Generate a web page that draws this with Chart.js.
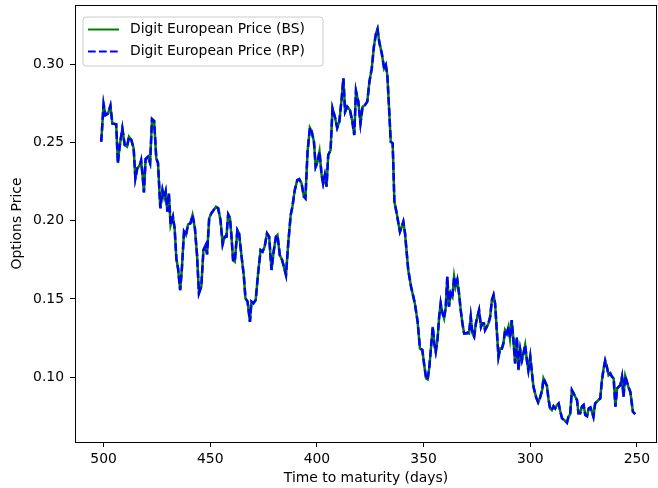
<!DOCTYPE html>
<html>
<head>
<meta charset="utf-8">
<script src="https://cdn.jsdelivr.net/npm/chart.js@4.4.1/dist/chart.umd.min.js"></script>
<style>
  html, body { margin: 0; padding: 0; background: #ffffff; }
  canvas { display: block; }
</style>
</head>
<body>
<canvas id="chart" width="658" height="488"></canvas>
<script>
// Time to maturity (days), counting down
const days = [
  501.1, 500.0, 499.1, 497.9, 496.8, 495.9, 494.1, 493.3, 492.5, 491.2,
  490.1, 489.0, 488.1, 487.0, 485.9, 485.1, 484.2, 483.0, 482.4, 481.6,
  481.1, 480.3, 479.2, 478.2, 477.3, 476.3, 475.3, 474.5, 473.4, 472.4,
  471.6, 470.9, 470.1, 469.4, 468.6, 467.5, 466.7, 465.9, 465.1, 464.1,
  463.3, 462.3, 461.4, 460.4, 459.3, 458.3, 457.2, 456.2, 455.3, 454.2,
  453.2, 452.1, 451.5, 450.5, 449.5, 448.4, 447.3, 446.3, 445.2, 444.2,
  443.2, 442.4, 441.6, 440.8, 440.1, 439.3, 438.5, 437.3, 436.5, 435.4,
  434.3, 433.5, 432.5, 431.4, 430.7, 429.8, 428.7, 427.5, 426.4, 425.5,
  424.5, 423.4, 422.4, 421.3, 420.3, 419.2, 418.5, 417.4, 416.3, 415.3,
  414.5, 413.4, 412.3, 411.5, 410.4, 409.2, 408.3, 407.2, 406.1, 405.4,
  404.4, 403.3, 402.5, 401.4, 400.6, 399.7, 398.8, 397.8, 397.1, 396.3,
  395.5, 394.7, 393.6, 392.7, 391.6, 390.5, 389.5, 388.4, 387.6, 386.8,
  385.8, 384.5, 383.4, 382.5, 381.7, 380.6, 379.6, 378.6, 377.5, 376.4,
  375.4, 374.3, 373.3, 372.3, 371.6, 370.8, 369.6, 368.5, 367.7, 367.0,
  366.1, 365.4, 364.5, 363.7, 362.6, 361.8, 361.1, 360.3, 359.5, 358.7,
  357.9, 357.2, 355.9, 354.9, 354.1, 352.8, 351.7, 350.6, 349.6, 348.8,
  348.1, 347.3, 346.5, 345.7, 345.0, 344.3, 343.5, 342.7, 342.0, 341.3,
  340.4, 339.6, 338.9, 338.1, 337.3, 336.5, 335.7, 335.0, 334.2, 333.4,
  332.6, 331.8, 331.0, 330.2, 329.4, 328.7, 327.9, 327.1, 326.3, 325.5,
  324.8, 324.0, 323.1, 322.5, 321.7, 321.2, 320.4, 319.6, 318.8, 318.0,
  317.2, 316.5, 315.7, 314.9, 314.1, 313.3, 312.6, 311.8, 311.0, 310.2,
  309.5, 308.7, 307.9, 307.1, 306.3, 305.5, 304.7, 303.9, 303.2, 302.4,
  301.6, 300.9, 300.0, 299.2, 298.5, 297.2, 296.3, 295.4, 294.4, 293.8,
  292.2, 291.4, 290.7, 289.9, 289.1, 288.3, 287.5, 286.7, 285.9, 285.1,
  284.4, 283.7, 282.8, 282.1, 281.3, 280.5, 279.7, 278.9, 278.1, 277.4,
  276.6, 275.8, 275.0, 274.2, 273.4, 272.6, 271.8, 271.1, 270.4, 269.6,
  268.8, 268.0, 267.2, 266.4, 265.6, 264.9, 264.1, 263.3, 262.5, 261.7,
  260.9, 260.1, 259.3, 258.6, 257.8, 257.0, 256.3, 255.5, 254.7, 253.9,
  253.1, 252.4, 251.9, 250.8
];

// Black-Scholes digit price
const bsPrice = [
  0.2504, 0.2743, 0.2674, 0.2685, 0.2734, 0.2621, 0.2615, 0.2368, 0.2472, 0.2589,
  0.2483, 0.2473, 0.2536, 0.2515, 0.2461, 0.2270, 0.2334, 0.2355, 0.2385, 0.2270,
  0.2181, 0.2393, 0.2408, 0.2368, 0.2649, 0.2636, 0.2398, 0.2368, 0.2079, 0.2195,
  0.2146, 0.2185, 0.2058, 0.2174, 0.1972, 0.2025, 0.1951, 0.1759, 0.1695, 0.1557,
  0.1695, 0.1929, 0.1908, 0.1976, 0.1983, 0.2036, 0.1951, 0.1780, 0.1536, 0.1579,
  0.1812, 0.1844, 0.1785, 0.2015, 0.2047, 0.2068, 0.2089, 0.2079, 0.2004, 0.1849,
  0.1898, 0.1898, 0.2040, 0.2019, 0.1908, 0.1748, 0.1738, 0.1940, 0.1919, 0.1780,
  0.1653, 0.1504, 0.1483, 0.1354, 0.1483, 0.1472, 0.1493, 0.1674, 0.1812, 0.1802,
  0.1834, 0.1919, 0.1898, 0.1685, 0.1802, 0.1898, 0.1908, 0.1780, 0.1748, 0.1695,
  0.1653, 0.1865, 0.2036, 0.2089, 0.2195, 0.2259, 0.2265, 0.2238, 0.2153, 0.2142,
  0.2440, 0.2593, 0.2572, 0.2504, 0.2344, 0.2376, 0.2440, 0.2291, 0.2238, 0.2291,
  0.2217, 0.2419, 0.2451, 0.2717, 0.2664, 0.2593, 0.2632, 0.2781, 0.2909, 0.2696,
  0.2728, 0.2706, 0.2632, 0.2547, 0.2828, 0.2760, 0.2621, 0.2728, 0.2738, 0.2760,
  0.2887, 0.2972, 0.3111, 0.3196, 0.3223, 0.3142, 0.3068, 0.2972, 0.2994, 0.2930,
  0.2696, 0.2504, 0.2494, 0.2121, 0.2047, 0.1983, 0.1930, 0.1960, 0.1993, 0.1919,
  0.1793, 0.1685, 0.1580, 0.1520, 0.1472, 0.1354, 0.1184, 0.1174, 0.1067, 0.0993,
  0.0987, 0.1067, 0.1195, 0.1322, 0.1216, 0.1163, 0.1238, 0.1386, 0.1472, 0.1418,
  0.1376, 0.1450, 0.1642, 0.1451, 0.1536, 0.1514, 0.1642, 0.1578, 0.1621, 0.1536,
  0.1429, 0.1344, 0.1280, 0.1280, 0.1285, 0.1280, 0.1386, 0.1280, 0.1259, 0.1344,
  0.1386, 0.1429, 0.1322, 0.1344, 0.1344, 0.1301, 0.1322, 0.1344, 0.1386, 0.1493,
  0.1525, 0.1472, 0.1301, 0.1131, 0.1184, 0.1184, 0.1216, 0.1301, 0.1280, 0.1322,
  0.1248, 0.1365, 0.1238, 0.1089, 0.1255, 0.1046, 0.1174, 0.1110, 0.1152, 0.1206,
  0.1110, 0.1046, 0.1131, 0.1025, 0.0939, 0.0870, 0.0840, 0.0870, 0.0920, 0.0993,
  0.0945, 0.0855, 0.0801, 0.0791, 0.0816, 0.0801, 0.0822, 0.0833, 0.0780, 0.0738,
  0.0731, 0.0722, 0.0710, 0.0748, 0.0765, 0.0918, 0.0897, 0.0876, 0.0855, 0.0770,
  0.0770, 0.0812, 0.0823, 0.0759, 0.0752, 0.0801, 0.0808, 0.0780, 0.0748, 0.0833,
  0.0844, 0.0855, 0.0865, 0.0982, 0.1057, 0.1106, 0.1067, 0.1014, 0.1025, 0.1003,
  0.0993, 0.0812, 0.0929, 0.0939, 0.0950, 0.1003, 0.0876, 0.1008, 0.0971, 0.0935,
  0.0908, 0.0833, 0.0780, 0.0765
];

// Replicating-portfolio digit price
const rpPrice = [
  0.2504, 0.2743, 0.2674, 0.2685, 0.2734, 0.2621, 0.2615, 0.2368, 0.2472, 0.2589,
  0.2483, 0.2473, 0.2536, 0.2515, 0.2461, 0.2270, 0.2334, 0.2355, 0.2385, 0.2270,
  0.2181, 0.2393, 0.2408, 0.2368, 0.2649, 0.2636, 0.2398, 0.2368, 0.2079, 0.2195,
  0.2146, 0.2185, 0.2058, 0.2174, 0.1972, 0.2025, 0.1951, 0.1759, 0.1695, 0.1557,
  0.1695, 0.1929, 0.1908, 0.1976, 0.1983, 0.2036, 0.1951, 0.1780, 0.1536, 0.1579,
  0.1812, 0.1844, 0.1785, 0.2015, 0.2047, 0.2068, 0.2089, 0.2079, 0.2004, 0.1849,
  0.1898, 0.1898, 0.2040, 0.2019, 0.1908, 0.1748, 0.1738, 0.1940, 0.1919, 0.1780,
  0.1653, 0.1504, 0.1483, 0.1354, 0.1483, 0.1472, 0.1493, 0.1674, 0.1812, 0.1802,
  0.1834, 0.1919, 0.1898, 0.1685, 0.1802, 0.1898, 0.1908, 0.1780, 0.1748, 0.1695,
  0.1653, 0.1865, 0.2036, 0.2089, 0.2195, 0.2259, 0.2265, 0.2238, 0.2153, 0.2142,
  0.2440, 0.2593, 0.2572, 0.2504, 0.2344, 0.2376, 0.2440, 0.2291, 0.2238, 0.2291,
  0.2217, 0.2419, 0.2451, 0.2717, 0.2664, 0.2593, 0.2632, 0.2781, 0.2909, 0.2696,
  0.2728, 0.2706, 0.2632, 0.2547, 0.2828, 0.2760, 0.2621, 0.2728, 0.2738, 0.2760,
  0.2887, 0.2972, 0.3111, 0.3196, 0.3223, 0.3142, 0.3068, 0.2972, 0.2994, 0.2930,
  0.2696, 0.2504, 0.2494, 0.2121, 0.2047, 0.1983, 0.1930, 0.1960, 0.1993, 0.1919,
  0.1793, 0.1685, 0.1580, 0.1520, 0.1472, 0.1354, 0.1184, 0.1174, 0.1067, 0.0993,
  0.0987, 0.1067, 0.1195, 0.1322, 0.1216, 0.1163, 0.1238, 0.1386, 0.1472, 0.1418,
  0.1376, 0.1450, 0.1642, 0.1451, 0.1536, 0.1514, 0.1642, 0.1578, 0.1621, 0.1536,
  0.1429, 0.1344, 0.1280, 0.1280, 0.1285, 0.1280, 0.1386, 0.1280, 0.1259, 0.1344,
  0.1386, 0.1429, 0.1322, 0.1344, 0.1344, 0.1301, 0.1322, 0.1344, 0.1386, 0.1493,
  0.1525, 0.1472, 0.1301, 0.1131, 0.1184, 0.1184, 0.1216, 0.1301, 0.1280, 0.1322,
  0.1248, 0.1365, 0.1238, 0.1089, 0.1255, 0.1046, 0.1174, 0.1110, 0.1152, 0.1206,
  0.1110, 0.1046, 0.1131, 0.1025, 0.0939, 0.0870, 0.0840, 0.0870, 0.0920, 0.0993,
  0.0945, 0.0855, 0.0801, 0.0791, 0.0816, 0.0801, 0.0822, 0.0833, 0.0780, 0.0738,
  0.0731, 0.0722, 0.0710, 0.0748, 0.0765, 0.0918, 0.0897, 0.0876, 0.0855, 0.0770,
  0.0770, 0.0812, 0.0823, 0.0759, 0.0752, 0.0801, 0.0808, 0.0780, 0.0748, 0.0833,
  0.0844, 0.0855, 0.0865, 0.0982, 0.1057, 0.1106, 0.1067, 0.1014, 0.1025, 0.1003,
  0.0993, 0.0812, 0.0929, 0.0939, 0.0950, 0.1003, 0.0876, 0.1008, 0.0971, 0.0935,
  0.0908, 0.0833, 0.0780, 0.0765
];

const xTicks = [500, 450, 400, 350, 300, 250];
const yTicks = [0.10, 0.15, 0.20, 0.25, 0.30];
const seriesNames = ['Digit European Price (BS)', 'Digit European Price (RP)'];

const FONT = 'DejaVu Sans';
const FONT_SIZE = 13.9;
Chart.defaults.font.family = FONT;
Chart.defaults.font.size = FONT_SIZE;
Chart.defaults.color = '#000000';

const BS_COLOR = '#008000';
const RP_COLOR = '#0000ff';
const RP_DASH = [7.7, 3.3];
const LINE_W = 2.5;

// Full box around the axes area
const framePlugin = {
  id: 'frame',
  afterDatasetsDraw(chart) {
    const { ctx, chartArea: a } = chart;
    ctx.save();
    ctx.strokeStyle = '#000000';
    ctx.lineWidth = 1;
    ctx.strokeRect(Math.round(a.left) + 0.5, Math.round(a.top) + 0.5,
                   Math.round(a.right - a.left) - 1, Math.round(a.bottom - a.top));
    ctx.restore();
  }
};

// Legend box in the upper-left corner of the axes
const legendPlugin = {
  id: 'cornerLegend',
  afterDraw(chart) {
    const { ctx, chartArea: a } = chart;
    const x = a.left + 8, y = a.top + 12, w = 240, h = 49, r = 3;
    ctx.save();
    ctx.beginPath();
    ctx.moveTo(x + r, y);
    ctx.arcTo(x + w, y, x + w, y + h, r);
    ctx.arcTo(x + w, y + h, x, y + h, r);
    ctx.arcTo(x, y + h, x, y, r);
    ctx.arcTo(x, y, x + w, y, r);
    ctx.closePath();
    ctx.fillStyle = 'rgba(255,255,255,0.8)';
    ctx.fill();
    ctx.strokeStyle = '#cccccc';
    ctx.lineWidth = 1;
    ctx.stroke();

    const entries = [
      { color: BS_COLOR, dash: [] },
      { color: RP_COLOR, dash: RP_DASH }
    ];
    entries.forEach((e, i) => {
      const cy = y + 12.5 + i * 22;
      ctx.beginPath();
      ctx.setLineDash(e.dash);
      ctx.strokeStyle = e.color;
      ctx.lineWidth = 2;
      ctx.moveTo(x + 5, cy);
      ctx.lineTo(x + 36, cy);
      ctx.stroke();
      ctx.setLineDash([]);
      ctx.fillStyle = '#000000';
      ctx.font = FONT_SIZE + 'px "' + FONT + '"';
      ctx.textBaseline = 'middle';
      ctx.textAlign = 'left';
      ctx.fillText(seriesNames[i], x + 47, cy);
    });
    ctx.restore();
  }
};

const points = (vals) => days.map((d, i) => ({ x: d, y: vals[i] }));

new Chart(document.getElementById('chart').getContext('2d'), {
  type: 'line',
  data: {
    datasets: [
      {
        label: seriesNames[0],
        data: points(bsPrice),
        borderColor: BS_COLOR,
        borderWidth: LINE_W,
        pointRadius: 0,
        tension: 0,
        fill: false,
        order: 2
      },
      {
        label: seriesNames[1],
        data: points(rpPrice),
        borderColor: RP_COLOR,
        borderWidth: LINE_W,
        borderDash: RP_DASH,
        pointRadius: 0,
        tension: 0,
        fill: false,
        order: 1
      }
    ]
  },
  options: {
    responsive: false,
    animation: false,
    devicePixelRatio: 1,
    layout: { padding: { top: 5, right: 1, left: 0, bottom: 0 } },
    plugins: { legend: { display: false }, tooltip: { enabled: false } },
    scales: {
      x: {
        type: 'linear',
        reverse: true,
        min: 240.6,
        max: 513.4,
        afterBuildTicks: (s) => { s.ticks = xTicks.map(v => ({ value: v })); },
        afterFit: (s) => { s.height = 46; s.paddingLeft = 0; s.paddingRight = 0; },
        ticks: { callback: (v) => String(v), padding: 4, maxRotation: 0, autoSkip: false },
        grid: { drawOnChartArea: false, color: '#000000', tickLength: 5, tickWidth: 1 },
        border: { display: false },
        title: { display: true, text: 'Time to maturity (days)', padding: { top: 0, bottom: 1 } }
      },
      y: {
        type: 'linear',
        min: 0.0587,
        max: 0.3377,
        afterBuildTicks: (s) => { s.ticks = yTicks.map(v => ({ value: v })); },
        afterFit: (s) => { s.width = 75; s.paddingTop = 0; s.paddingBottom = 0; },
        ticks: { callback: (v) => v.toFixed(2), padding: 6, autoSkip: false },
        grid: { drawOnChartArea: false, color: '#000000', tickLength: 5, tickWidth: 1 },
        border: { display: false },
        title: { display: true, text: 'Options Price', padding: { top: 8.7, bottom: 0 } }
      }
    }
  },
  plugins: [framePlugin, legendPlugin]
});
</script>
</body>
</html>
